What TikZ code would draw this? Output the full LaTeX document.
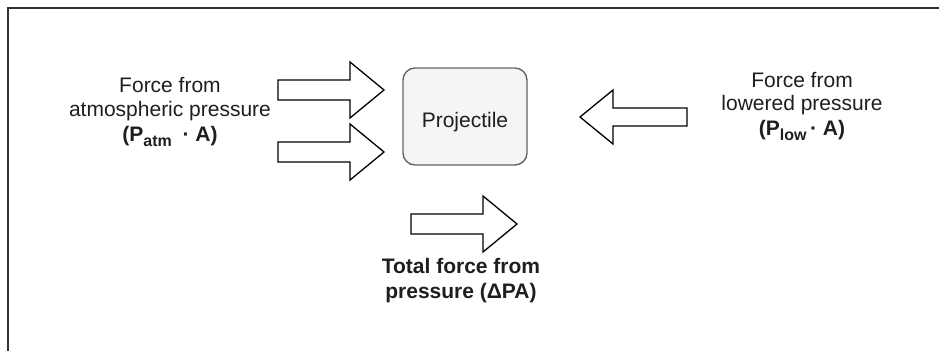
\documentclass[tikz,border=0pt]{standalone}
\usepackage{fontspec}
\setmainfont{Liberation Sans}
\definecolor{txt}{HTML}{1E1E1E}
\definecolor{boxfill}{HTML}{F5F5F5}
\definecolor{boxline}{HTML}{666666}
\definecolor{frameline}{HTML}{333333}
\newcommand{\subsc}[1]{\raisebox{-5pt}{\fontsize{16}{16}\selectfont #1}}
\begin{document}
\begin{tikzpicture}[x=1pt,y=-1pt,
  lbl/.style={inner sep=0pt,anchor=base,text=txt,font=\fontsize{21}{24.5}\selectfont},
  blbl/.style={lbl,font=\fontsize{21}{24.5}\selectfont\bfseries},
  fatarrow/.style={draw=black,fill=white,line width=1.3pt,line join=miter},
  projbox/.style={draw=boxline,fill=boxfill,line width=1.4pt,rounded corners=12pt,
    minimum width=124pt,minimum height=97pt,inner sep=0pt}]
\useasboundingbox (0,0) rectangle (939,351);
% frame
\draw[frameline,line width=1.6pt] (8,351) -- (8,8) -- (939,8);
% projectile box
\node[projbox] (proj) at (465,116.5) {};
\node[lbl] (projtxt) at (465,127) {Projectile};
% right-pointing arrows (tail x0, head base xb, tip xt, center y)
\newcommand{\rarrow}[4]{\draw[fatarrow] (#1,#4-10) -- (#2,#4-10) -- (#2,#4-28) -- (#3,#4) -- (#2,#4+28) -- (#2,#4+10) -- (#1,#4+10) -- cycle;}
\rarrow{278}{350}{384}{90}
\rarrow{278}{350}{384}{152}
\rarrow{411}{483}{517}{224}
% left-pointing arrow
\draw[fatarrow] (687,108) -- (613,108) -- (613,90) -- (580,117) -- (613,144) -- (613,126) -- (687,126) -- cycle;
% left label
\node[lbl] (l1) at (170,92) {Force from};
\node[lbl] (l2) at (170,116) {atmospheric pressure};
\node[blbl] (l3) at (170,141) {(P\subsc{atm}\hspace{5pt} · A)};
% right label
\node[lbl] (r1) at (802,87) {Force from};
\node[lbl] (r2) at (802,110) {lowered pressure};
\node[blbl] (r3) at (802,135) {(P\subsc{low}\,· A)};
% bottom label
\node[blbl] (b1) at (461,273) {Total force from};
\node[blbl] (b2) at (461,298) {pressure (ΔPA)};
\end{tikzpicture}
\end{document}
